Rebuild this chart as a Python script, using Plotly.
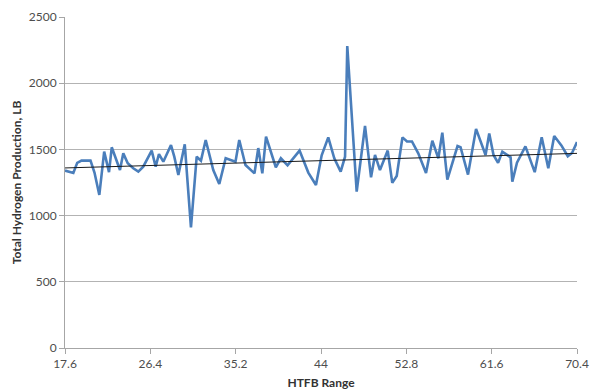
import plotly.graph_objects as go

# HTFB range (x) and total hydrogen production (lb)
htfb = [17.60, 18.46, 18.86, 19.30, 20.23, 20.64, 21.14, 21.64, 22.14, 22.42,
        23.27, 23.61, 24.07, 24.64, 25.16, 25.67, 26.54, 26.95, 27.29, 27.74,
        28.53, 28.87, 29.29, 29.95, 30.59, 31.18, 31.62, 32.11, 32.89, 33.51,
        34.17, 35.18, 35.57, 36.21, 37.14, 37.53, 37.95, 38.33, 39.34, 39.86,
        40.55, 41.79, 42.69, 43.48, 44.07, 44.75, 45.37, 46.03, 46.48, 46.71,
        47.68, 48.54, 49.16, 49.57, 50.08, 50.88, 51.35, 51.81, 52.40, 52.87,
        53.38, 54.03, 54.83, 55.48, 56.10, 56.51, 57.03, 57.55, 58.08, 58.39,
        59.16, 59.99, 60.50, 60.97, 61.35, 61.79, 62.26, 62.70, 63.55, 63.73,
        64.21, 65.08, 66.04, 66.76, 67.44, 68.05, 68.79, 69.45, 69.89, 70.40]
hydrogen = [1340, 1322, 1398, 1415, 1415, 1325, 1156, 1483, 1328, 1516,
            1344, 1470, 1395, 1357, 1332, 1370, 1491, 1370, 1465, 1407,
            1533, 1445, 1307, 1538, 911, 1445, 1415, 1571, 1344, 1239,
            1433, 1407, 1571, 1382, 1319, 1510, 1319, 1596, 1365, 1433,
            1380, 1491, 1325, 1231, 1455, 1591, 1433, 1332, 1445, 2281,
            1181, 1677, 1289, 1458, 1344, 1491, 1247, 1299, 1591, 1560,
            1560, 1470, 1322, 1566, 1433, 1626, 1271, 1390, 1525, 1516,
            1310, 1655, 1558, 1458, 1620, 1458, 1398, 1483, 1440, 1256,
            1400, 1523, 1328, 1591, 1357, 1601, 1530, 1448, 1473, 1555]

# linear trendline end values over the full HTFB range
trend_x = [17.6, 70.4]
trend_y = [1360, 1470]

x_ticks = [17.6, 26.4, 35.2, 44, 52.8, 61.6, 70.4]
x_tick_text = ["17.6", "26.4", "35.2", "44", "52.8", "61.6", "70.4"]
y_ticks = [0, 500, 1000, 1500, 2000, 2500]
grid_vals = [500, 1000, 1500, 2000]

font = "Lato, 'Open Sans', sans-serif"
grey_text = "#4d4d4d"

fig = go.Figure()
fig.add_trace(go.Scatter(x=htfb, y=hydrogen, mode="lines",
                         line=dict(color="#4a7ebb", width=2.6),
                         hoverinfo="skip"))
fig.add_trace(go.Scatter(x=trend_x, y=trend_y, mode="lines",
                         line=dict(color="#1a1a1a", width=1),
                         hoverinfo="skip"))
# invisible trace on a second y axis that only carries the inner gridlines
fig.add_trace(go.Scatter(x=trend_x, y=[0, 0], yaxis="y2", mode="lines",
                         line=dict(width=0), opacity=0, hoverinfo="skip"))

fig.update_layout(
    width=590, height=392,
    margin=dict(l=65, r=13, t=17, b=44),
    plot_bgcolor="white", paper_bgcolor="white",
    showlegend=False,
    font=dict(family=font, size=12, color=grey_text),
    xaxis=dict(range=[x_ticks[0], x_ticks[-1]], tickvals=x_ticks,
               ticktext=x_tick_text, showgrid=False, zeroline=False,
               showline=True, linecolor="#a6a6a6", linewidth=1,
               ticks="outside", ticklen=5, tickcolor="#a6a6a6",
               tickfont=dict(size=12, color=grey_text), automargin=False,
               title=dict(text="<b>HTFB Range</b>", standoff=8,
                          font=dict(size=12, color="#333333"))),
    yaxis=dict(range=[0, 2500], tickvals=y_ticks, showgrid=False,
               zeroline=False, showline=True, linecolor="#a6a6a6",
               linewidth=1, ticks="outside", ticklen=5, tickcolor="#a6a6a6",
               tickfont=dict(size=12, color=grey_text), automargin=False,
               title=dict(text="<b>Total Hydrogen Production, LB</b>",
                          standoff=4,
                          font=dict(size=12, color="#333333"))),
    yaxis2=dict(range=[0, 2500], overlaying="y", side="left",
                tickvals=grid_vals, showticklabels=False, ticks="",
                showgrid=True, gridcolor="#b3b3b3", gridwidth=1,
                zeroline=False, showline=False, automargin=False),
)

fig.write_html("out.html")
